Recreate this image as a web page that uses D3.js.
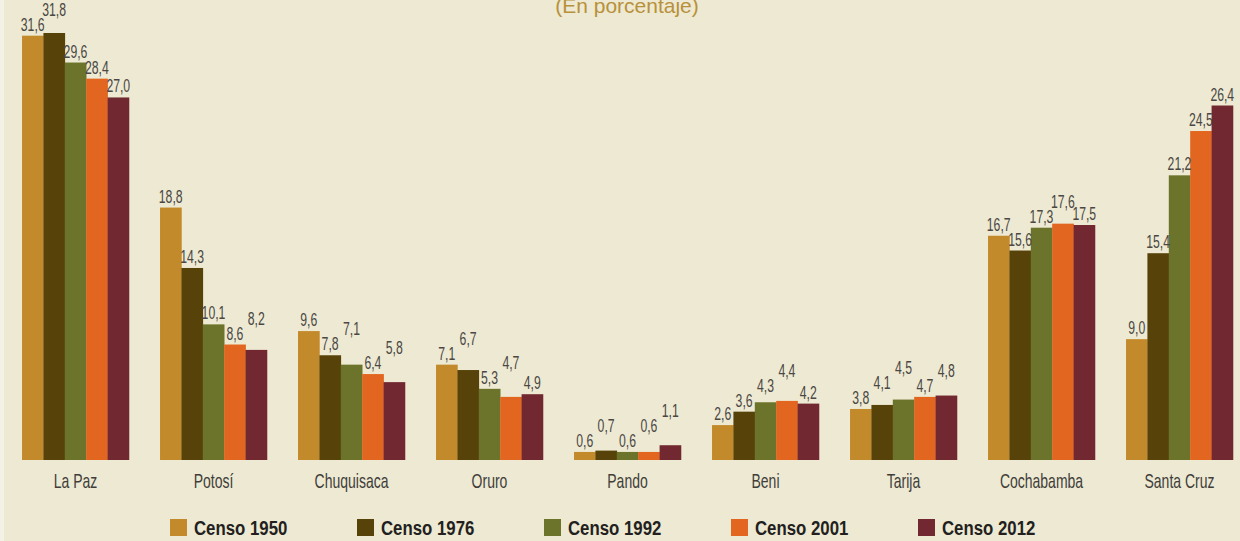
<!DOCTYPE html>
<html>
<head>
<meta charset="utf-8">
<script src="https://cdn.jsdelivr.net/npm/d3@7"></script>
<style>
  html, body { margin: 0; padding: 0; background: #EDE9D2; }
  svg { display: block; }
  text { font-family: "Liberation Sans", Arial, sans-serif; }
</style>
</head>
<body>
<div id="chart"></div>
<script>
// data
const regions = ["La Paz", "Potosí", "Chuquisaca", "Oruro", "Pando", "Beni", "Tarija", "Cochabamba", "Santa Cruz"];
const censos = ["Censo 1950", "Censo 1976", "Censo 1992", "Censo 2001", "Censo 2012"];
const censo1950 = [31.6, 18.8, 9.6, 7.1, 0.6, 2.6, 3.8, 16.7, 9.0];
const censo1976 = [31.8, 14.3, 7.8, 6.7, 0.7, 3.6, 4.1, 15.6, 15.4];
const censo1992 = [29.6, 10.1, 7.1, 5.3, 0.6, 4.3, 4.5, 17.3, 21.2];
const censo2001 = [28.4, 8.6, 6.4, 4.7, 0.6, 4.4, 4.7, 17.6, 24.5];
const censo2012 = [27.0, 8.2, 5.8, 4.9, 1.1, 4.2, 4.8, 17.5, 26.4];
const colors = ["#C38A2B", "#57430A", "#6B742A", "#E2661F", "#722830"];

const series = [censo1950, censo1976, censo1992, censo2001, censo2012];

const width = 1240, height = 541;

// no condensed face is installed, so squeeze a regular one horizontally
const narrow = 0.68;

const svg = d3.select("#chart").append("svg")
    .attr("width", width)
    .attr("height", height);

svg.append("rect")
    .attr("width", width).attr("height", height)
    .attr("fill", "#EDE9D2");
svg.append("rect")
    .attr("width", 4).attr("height", height)
    .attr("fill", "#F4F2E6");

// title, cut at top like the original
svg.append("text")
    .attr("x", 627).attr("y", 13)
    .attr("text-anchor", "middle")
    .attr("fill", "#B8913A")
    .style("font-size", "21px")
    .text("(En porcentaje)");

const x0 = d3.scaleBand()
    .domain(regions)
    .range([6.5, 1248.5])
    .paddingInner(0.225)
    .paddingOuter(0.1125);

const x1 = d3.scaleBand()
    .domain(d3.range(censos.length))
    .range([0, x0.bandwidth()]);

const y = d3.scaleLinear()
    .domain([0, 31.8])
    .range([460, 33]);

const fmt = v => d3.format(".1f")(v).replace(".", ",");

const groups = svg.selectAll("g.region")
    .data(regions)
    .enter()
    .append("g")
    .attr("class", "region")
    .attr("transform", d => `translate(${x0(d)},0)`);

groups.each(function (reg, ri) {
    const g = d3.select(this);
    const vals = series.map(s => s[ri]);

    g.selectAll("rect")
        .data(vals)
        .enter()
        .append("rect")
        .attr("x", (d, i) => x1(i))
        .attr("width", x1.bandwidth() + 0.3)
        .attr("y", d => y(d))
        .attr("height", d => y(0) - y(d))
        .attr("fill", (d, i) => colors[i]);

    // label baselines, stacking a label above its left neighbour when they would collide
    const base = [];
    vals.forEach((v, i) => {
        let b = y(v) - 5;
        if (i > 0 && Math.abs(b - base[i - 1]) < 12) b = base[i - 1] - 15;
        base.push(b);
    });

    g.selectAll("text.val")
        .data(vals)
        .enter()
        .append("text")
        .attr("class", "val")
        .attr("transform", (d, i) => `translate(${x1(i) + x1.bandwidth() / 2},${base[i]}) scale(${narrow},1)`)
        .attr("text-anchor", "middle")
        .attr("fill", "#4A4744")
        .style("font-size", "18px")
        .text(d => fmt(d));
});

// category labels
svg.append("g")
    .selectAll("text")
    .data(regions)
    .enter()
    .append("text")
    .attr("transform", d => `translate(${x0(d) + x0.bandwidth() / 2},488) scale(0.7,1)`)
    .attr("text-anchor", "middle")
    .attr("fill", "#403D3A")
    .style("font-size", "20px")
    .text(d => d);

// legend
const legendX = d3.scalePoint()
    .domain(censos)
    .range([170, 918]);

const leg = svg.append("g")
    .selectAll("g")
    .data(censos)
    .enter()
    .append("g")
    .attr("transform", d => `translate(${legendX(d)},519)`);

leg.append("rect")
    .attr("width", 17).attr("height", 17)
    .attr("fill", (d, i) => colors[i]);

leg.append("text")
    .attr("transform", "translate(24,16) scale(0.8,1)")
    .attr("fill", "#231F20")
    .style("font-size", "21px")
    .style("font-weight", "bold")
    .text(d => d);
</script>
</body>
</html>
